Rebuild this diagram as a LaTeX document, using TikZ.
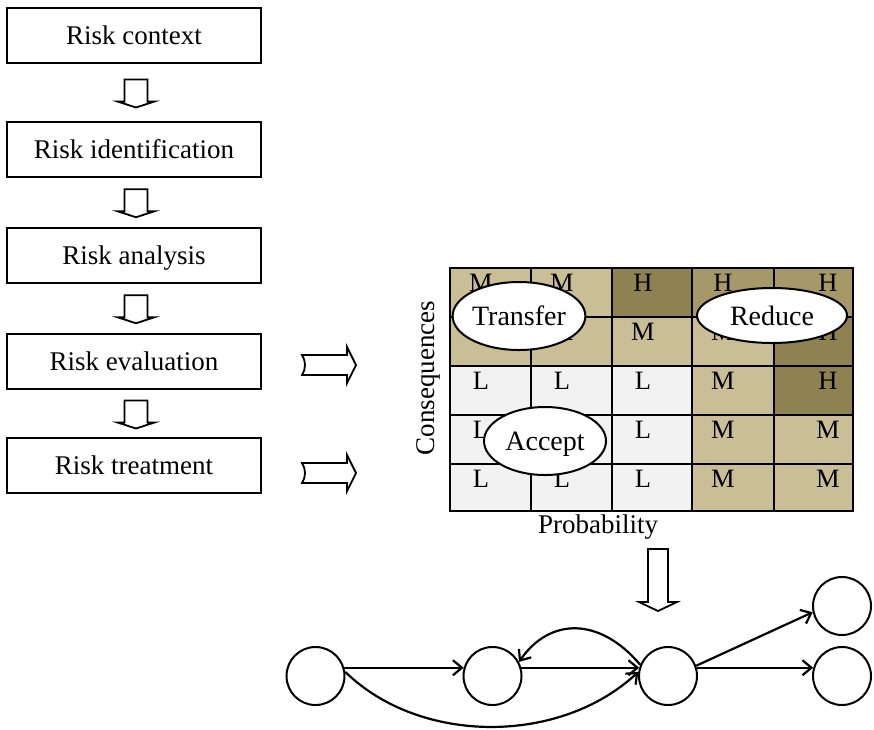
\documentclass[tikz,border=0pt]{standalone}
\usepackage{fontspec}
\setmainfont{Liberation Serif}
\usetikzlibrary{arrows.meta,shapes.geometric,calc}

\definecolor{Lc}{HTML}{F2F2F2}
\definecolor{Mc}{HTML}{C9BE96}
\definecolor{Hc}{HTML}{8E8152}
\definecolor{Hm}{HTML}{A69868}

\begin{document}
\begin{tikzpicture}[x=1pt,y=-1pt,
  box/.style={draw,line width=2pt,minimum width=254pt,minimum height=55pt,
    inner sep=0pt,font=\fontsize{27}{32}\selectfont,text height=19pt,text depth=1pt},
  blockarrow/.style={draw,fill=white,line width=1.8pt,line join=miter},
  gridline/.style={draw=black,line width=1.5pt},
  lab/.style={font=\fontsize{26.5}{30}\selectfont,anchor=base,inner sep=0pt},
  oval/.style={ellipse,draw,fill=white,line width=2pt,inner sep=0pt,
    font=\fontsize{28}{32}\selectfont,text height=19pt,text depth=0pt},
  axislab/.style={font=\fontsize{27}{32}\selectfont,inner sep=0pt},
  stnode/.style={circle,draw,line width=2pt,minimum size=58pt,inner sep=0pt},
  flow/.style={line width=2.2pt,-{Straight Barb[length=9pt,width=15pt,line width=2.2pt]}},
  pics/downblock/.style={code={
    \draw[blockarrow] (-11.5,-14) -- (-11.5,8) -- (-18.5,8) -- (0,14)
      -- (18.5,8) -- (11.5,8) -- (11.5,-14) -- cycle;}},
  pics/rightblock/.style={code={
    \draw[blockarrow] (-27,-10) -- (18,-10) -- (18,-18) -- (27,0)
      -- (18,18) -- (18,10) -- (-27,10)
      .. controls (-23,4) and (-23,-4) .. (-27,-10) -- cycle;}}
]
\useasboundingbox (0,0) rectangle (874,729);

% process steps
\node[box] (b1) at (134,35.5)  {Risk context};
\node[box] (b2) at (134,149.5) {Risk identification};
\node[box] (b3) at (134,255)   {Risk analysis};
\node[box] (b4) at (134,361.5) {Risk evaluation};
\node[box] (b5) at (134,465.5) {Risk treatment};

\path ($(b1.south)!0.5!(b2.north)$) ++(2,1) pic {downblock};
\path ($(b2.south)!0.5!(b3.north)$) ++(2,1) pic {downblock};
\path ($(b3.south)!0.5!(b4.north)$) ++(2,1) pic {downblock};
\path ($(b4.south)!0.5!(b5.north)$) ++(2,1) pic {downblock};

\path (329,365) pic {rightblock};
\path (329,473) pic {rightblock};

% risk matrix: cell fills and ratings
\foreach \ytop/\cells in {
    268/{Mc/M,Mc/M,Hc/H,Hm/H,Hm/H},
    317/{Mc/M,Mc/M,Mc/M,Mc/M,Hc/H},
    366/{Lc/L,Lc/L,Lc/L,Mc/M,Hc/H},
    415/{Lc/L,Lc/L,Lc/L,Mc/M,Mc/M},
    464/{Lc/L,Lc/L,Lc/L,Mc/M,Mc/M}}{
  \foreach \fc/\lt [count=\i] in \cells {
    \pgfmathsetmacro\xl{{450,531,612,692,774,853}[\i-1]}
    \pgfmathsetmacro\xr{{450,531,612,692,774,853}[\i]}
    \pgfmathsetmacro\xt{\i==5 ? \xl+54 : \xl+31}
    \pgfmathsetmacro\ybot{\ytop==464 ? 511 : \ytop+49}
    \fill[\fc] (\xl,\ytop) rectangle (\xr,\ybot);
    \node[lab] at (\xt,\ytop+23) {\lt};
  }
}
\foreach \x in {531,612,692,774} \draw[gridline] (\x,268) -- (\x,511);
\foreach \y in {317,366,415,464} \draw[gridline] (450,\y) -- (853,\y);
\draw[line width=2pt] (450,268) rectangle (853,511);

\node[oval,minimum width=118pt,minimum height=68pt] (transfer) at (519,316) {Transfer};
\node[oval,minimum width=150pt,minimum height=55pt] (reduce) at (772,315.5) {Reduce};
\node[oval,minimum width=122pt,minimum height=68pt] (accept) at (545,441) {Accept};

\node[axislab,rotate=90] (cons) at (428,378) {Consequences};
\node[axislab] (prob) at (598,527) {Probability};

% arrow down to the network
\draw[blockarrow] (648,549) -- (648,602) -- (639,602) -- (658,611)
  -- (677,602) -- (668,602) -- (668,549) -- cycle;

% network
\node[stnode] (c1) at (315.5,676) {};
\node[stnode] (c2) at (492.5,676) {};
\node[stnode] (c3) at (668,676) {};
\node[stnode] (c4) at (842,606) {};
\node[stnode] (c5) at (842,676) {};

\draw[flow] (c1.16) -- (c2.164);
\draw[flow] (c2.16) -- (c3.164);
\draw[flow] (c3.16) -- (c5.164);
\draw[flow] (c3.20) -- (c4.192);
\draw[flow] (c1.8) .. controls (420,745) and (560,745) .. (c3.172);
\draw[flow] (c3.158) .. controls (600,617) and (550,617) .. (c2.28);
\end{tikzpicture}
\end{document}
